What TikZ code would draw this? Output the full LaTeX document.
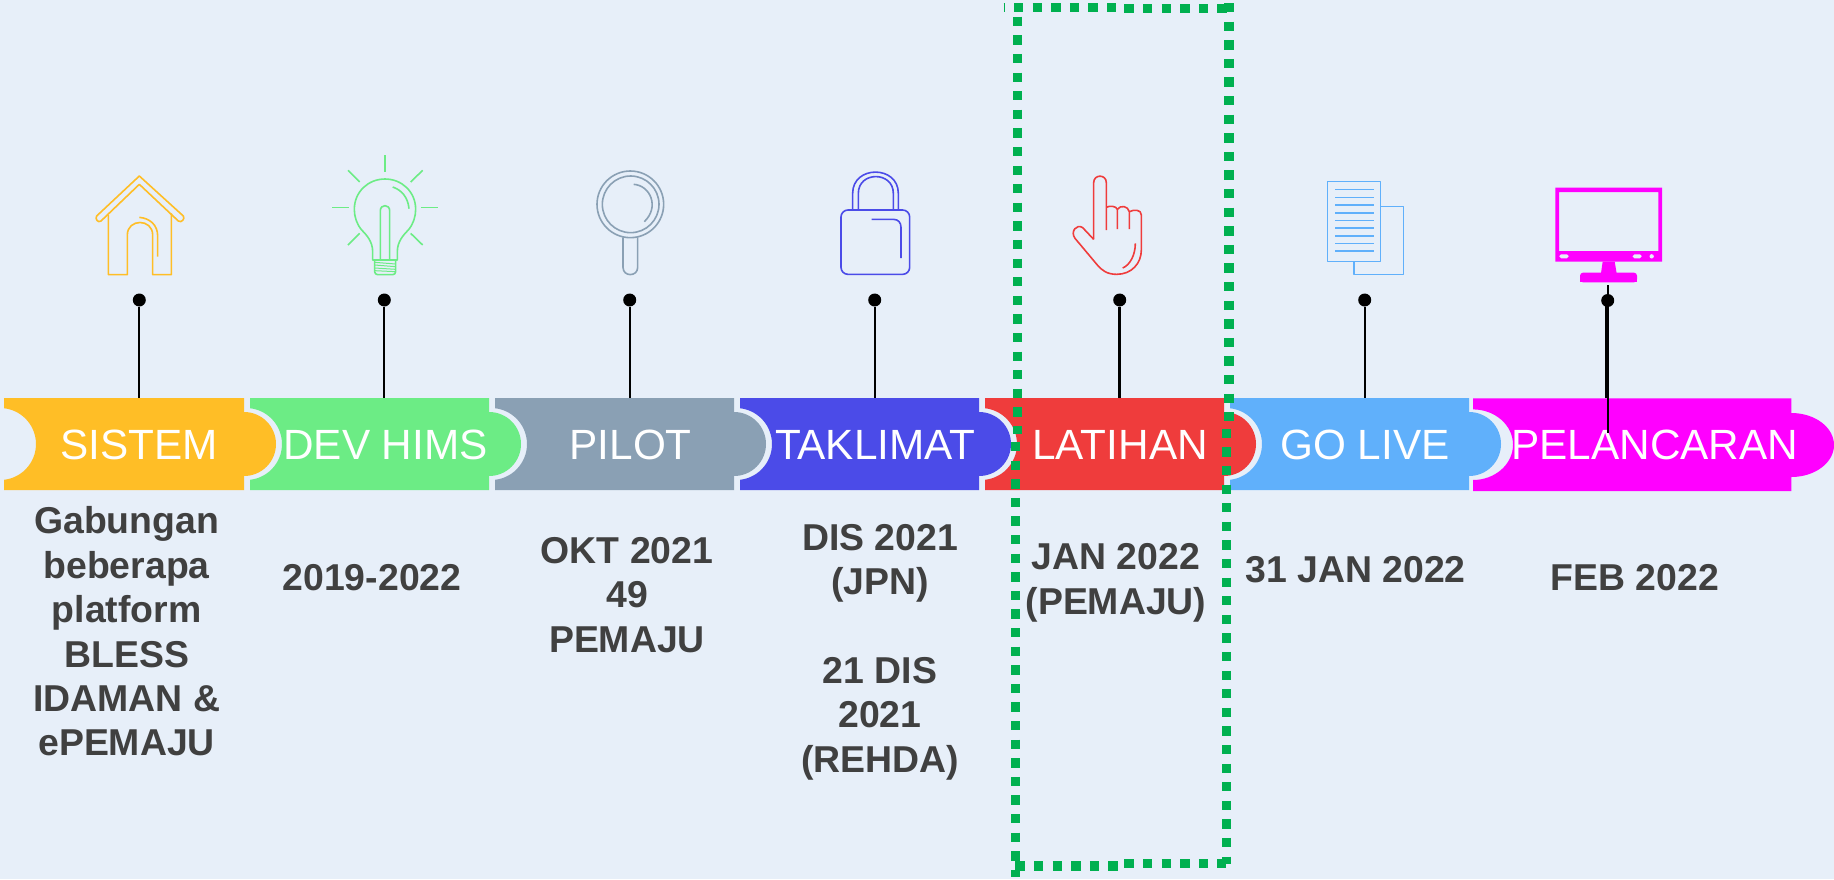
\documentclass[tikz,border=0pt]{standalone}
\usepackage{fontspec}
\setmainfont{Liberation Sans}
\definecolor{pagebg}{HTML}{E7EFF9}
\definecolor{sistemcol}{HTML}{FFBE26}
\definecolor{devcol}{HTML}{6CEC85}
\definecolor{pilotcol}{HTML}{8AA0B4}
\definecolor{taklimatcol}{HTML}{4B4BE8}
\definecolor{latihancol}{HTML}{EF3C3C}
\definecolor{golivecol}{HTML}{60B0FB}
\definecolor{pelancarancol}{HTML}{FF00FF}
\definecolor{boxcol}{HTML}{00B050}
\definecolor{notecol}{HTML}{404040}
\def\bandshape#1#2#3{\fill[#3] (#1,398) -- (#2,398) -- (#2,412) arc[start angle=-90,end angle=90,radius=32] -- (#2,490) -- (#1,490) -- (#1,479.8) arc[start angle=83.6,end angle=-83.6,radius=36] -- (#1,408.2) -- cycle;}
\tikzset{
   bandtext/.style={text=white,font=\fontsize{42.3}{44}\selectfont,inner sep=0pt,minimum height=92pt},
   notetext/.style={text=notecol,font=\fontsize{37.4}{44.4}\selectfont\bfseries,align=center,inner sep=0pt},
   dotmark/.style={circle,fill=black,inner sep=0pt,minimum size=13pt},
   stem/.style={draw=black,line width=2pt},
   icon/.style={line width=1.6pt,line join=round},
   greenbox/.style={draw=boxcol,line width=9.3pt,dash pattern=on 9.3pt off 9.3pt},
}

\begin{document}
\begin{tikzpicture}[x=1pt,y=-1pt]
   \fill[pagebg] (0,0) rectangle (1834,879);
   \useasboundingbox (0,0) rectangle (1834,879);

   % bands
   \bandshape{4}{244}{sistemcol}
   \bandshape{250}{489}{devcol}
   \bandshape{495}{734}{pilotcol}
   \bandshape{740}{979}{taklimatcol}
   \bandshape{985}{1224}{latihancol}
   \bandshape{1230}{1469}{golivecol}
   \fill[pelancarancol] (1473,398.3) -- (1791.3,398.3) -- (1791.3,413) arc[start angle=-90,end angle=90,x radius=42.7,y radius=32] -- (1791.3,491) -- (1473,491) -- (1473,480) arc[start angle=90,end angle=-90,x radius=40,y radius=35.3] -- cycle;

   \node[bandtext] (sistem) at (139.3,444.6) {SISTEM};
   \node[bandtext] (dev) at (385.5,444.6) {DEV HIMS};
   \node[bandtext] (pilot) at (630.7,444.6) {PILOT};
   \node[bandtext] (taklimat) at (875.3,444.6) {TAKLIMAT};
   \node[bandtext] (latihan) at (1120,444.6) {LATIHAN};
   \node[bandtext] (golive) at (1365,444.6) {GO LIVE};
   \node[bandtext] (pelancaran) at (1654.7,445) {PELANCARAN};

   \node[dotmark] (dotA) at (139.3,300) {};
   \node[dotmark] (dotB) at (384.3,300) {};
   \node[dotmark] (dotC) at (629.7,300) {};
   \node[dotmark] (dotD) at (874.7,300) {};
   \node[dotmark] (dotE) at (1119.7,300) {};
   \node[dotmark] (dotF) at (1364.7,300) {};
   \node[dotmark] (dotG) at (1607.7,300.5) {};
   \coordinate (footB) at (384.3,398);
   \coordinate (footC) at (629.7,398);
   \coordinate (footD) at (874.7,398);
   \coordinate (footE) at (1119.7,398);
   \coordinate (footF) at (1364.7,398);
   \coordinate (headG) at (1606,305);
   \coordinate (footG) at (1606,398);
   \coordinate (upG) at (1607.8,285);
   \coordinate (downG) at (1607.8,433);

   \draw[stem] (dotA) -- (sistem.north);
   \draw[stem] (dotB) -- (footB);
   \draw[stem] (dotC) -- (footC);
   \draw[stem] (dotD) -- (footD);
   \draw[stem,line width=3pt] (dotE) -- (footE);
   \draw[stem] (dotF) -- (footF);
   \draw[stem,line width=2.5pt] (headG) -- (footG);
   \draw[stem,line width=2.5pt] (upG) -- (downG);

   % notes
   \node[notetext] (noteA) at (126.6,631.6) {Gabungan\\beberapa\\platform\\BLESS\\IDAMAN \&\\ePEMAJU};
   \node[notetext] (noteB) at (372,577.8) {2019-2022};
   \node[notetext] (noteC) at (627,595) {OKT 2021\\49\\PEMAJU};
   \node[notetext] (noteD) at (880,652) {DIS 2021\\(JPN)\\[44.4pt]21 DIS\\2021\\(REHDA)};
   \node[notetext] (noteE) at (1116,583) {JAN 2022\\(PEMAJU)};
   \node[notetext] (noteF) at (1355.5,569.6) {31 JAN 2022};
   \node[notetext] (noteG) at (1635,578) {FEB 2022};

   % house
   \begin{scope}[shift={(0,150)},scale=1/3,icon,draw=sistemcol]
      \draw (418,78) -- (290,198) .. controls (284,206) and (294,220) .. (303,213) -- (418,103) -- (535,213) .. controls (544,220) and (556,206) .. (550,198) -- cycle;
      \draw (325,195) -- (325,374) -- (382,374) -- (382,255) .. controls (382,205) and (458,205) .. (458,255) -- (458,374) -- (514,374) -- (514,190);
      \draw (418,202) .. controls (450,205) and (473,225) .. (473,258) -- (473,320);
   \end{scope}

   % bulb
   \begin{scope}[shift={(0,150)},scale=1/3,icon,draw=devcol]
      \draw (1155,15) -- (1155,65);
      \draw (1044,61) -- (1079,96);
      \draw (1268,61) -- (1232,96);
      \draw (997,173) -- (1048,173);
      \draw (1263,173) -- (1314,173);
      \draw (1044,285) -- (1079,250);
      \draw (1268,285) -- (1232,250);
      \draw (1118,330) -- (1118,305) .. controls (1118,275) and (1100,255) .. (1085,240) .. controls (1070,222) and (1063,200) .. (1063,178) .. controls (1063,125) and (1105,87) .. (1155,87) .. controls (1205,87) and (1247,125) .. (1247,178) .. controls (1247,200) and (1240,222) .. (1225,240) .. controls (1210,255) and (1192,275) .. (1192,305) -- (1192,330) -- cycle;
      \draw (1141,330) -- (1141,182) .. controls (1141,162) and (1169,162) .. (1169,182) -- (1169,330);
      \draw (1178,111) .. controls (1205,120) and (1224,142) .. (1227,176);
      \draw[rounded corners=3pt] (1124,330) -- (1124,374) -- (1187,374) -- (1187,330);
      \foreach \ya/\yb in {337/342,345/350,354/358,362/365}
         \draw[line width=1pt] (1124,\ya) -- (1187,\yb);
   \end{scope}

   % magnifier
   \begin{scope}[shift={(480,150)},scale=1/3,icon,draw=pilotcol]
      \draw (451,163) circle (100);
      \draw (452,163) circle (85);
      \draw (461,103) .. controls (510,106) and (540,170) .. (493,215);
      \draw (429,262) -- (429,352) .. controls (429,381) and (473,381) .. (473,352) -- (473,262);
   \end{scope}

   % lock
   \begin{scope}[shift={(480,150)},scale=1/3,icon,draw=taklimatcol]
      \draw[rounded corners=7pt] (1083,180) rectangle (1289,373);
      \draw (1118,180) -- (1118,130) .. controls (1118,45) and (1255,45) .. (1255,130) -- (1255,180);
      \draw (1135,180) -- (1135,130) .. controls (1135,63) and (1240,63) .. (1240,130) -- (1240,180);
      \draw (1175,208) -- (1240,208) .. controls (1255,208) and (1263,218) .. (1263,232) -- (1263,324);
   \end{scope}

   % hand
   \begin{scope}[shift={(960,150)},scale=1/3,icon,draw=latihancol]
      \draw (401,268) -- (401,98) .. controls (401,72) and (439,72) .. (439,98) -- (439,240);
      \draw (439,172) .. controls (450,166) and (468,168) .. (472,178) -- (472,237);
      \draw (472,178) .. controls (482,164) and (504,168) .. (508,185) -- (508,237);
      \draw (508,185) .. controls (522,178) and (544,178) .. (544,195) -- (544,300) .. controls (544,340) and (515,373) .. (470,373) .. controls (440,373) and (425,360) .. (412,345) -- (345,265) .. controls (330,245) and (350,220) .. (368,233) -- (401,268);
      \draw (526,280) .. controls (526,315) and (510,345) .. (488,354);
   \end{scope}

   % papers
   \begin{scope}[shift={(960,150)},scale=1/3,icon,draw=golivecol]
      \draw (1103,94) rectangle (1262,334);
      \draw (1262,170) -- (1330,170) -- (1330,373) -- (1182,373) -- (1182,334);
      \foreach \yy in {119,142,165,188.5,211.5,234.5,257.5,281,303.5}
         \draw (1125,\yy) -- (1241,\yy);
   \end{scope}

   % monitor
   \begin{scope}[shift={(1420,150)},scale=1/3]
      \fill[pelancarancol,even odd rule] (406,113) rectangle (726,335) (417,126) rectangle (715,303);
      \fill[pagebg,rounded corners=1.8pt] (418,313) rectangle (446,325);
      \fill[pagebg,rounded corners=1.8pt] (638,313) rectangle (665,325);
      \fill[pagebg] (695,319) circle (6.5);
      \fill[pelancarancol] (548,335) -- (584,335) -- (590,370) -- (543,370) -- cycle;
      \fill[pelancarancol,rounded corners=3pt] (480,397) -- (480,368) -- (651,368) -- (651,397) -- cycle;
      \fill[pelancarancol] (480,385) rectangle (651,397);
   \end{scope}

   % dotted frame, made of slightly offset pieces
   \draw[greenbox,dash phase=8.3pt] (1003.7,7.3) -- (1116,7.3);
   \draw[greenbox] (1124.4,8.3) -- (1227,8.3);
   \draw[greenbox] (1017.7,16.7) -- (1017.7,434);
   \draw[greenbox] (1015.3,442) -- (1015.3,877);
   \draw[greenbox] (1229,3) -- (1229,421);
   \draw[greenbox] (1226.7,428.7) -- (1226.7,864);
   \draw[greenbox] (1015.4,866) -- (1118,866);
   \draw[greenbox] (1124.4,863.3) -- (1226,863.3);
\end{tikzpicture}
\end{document}
